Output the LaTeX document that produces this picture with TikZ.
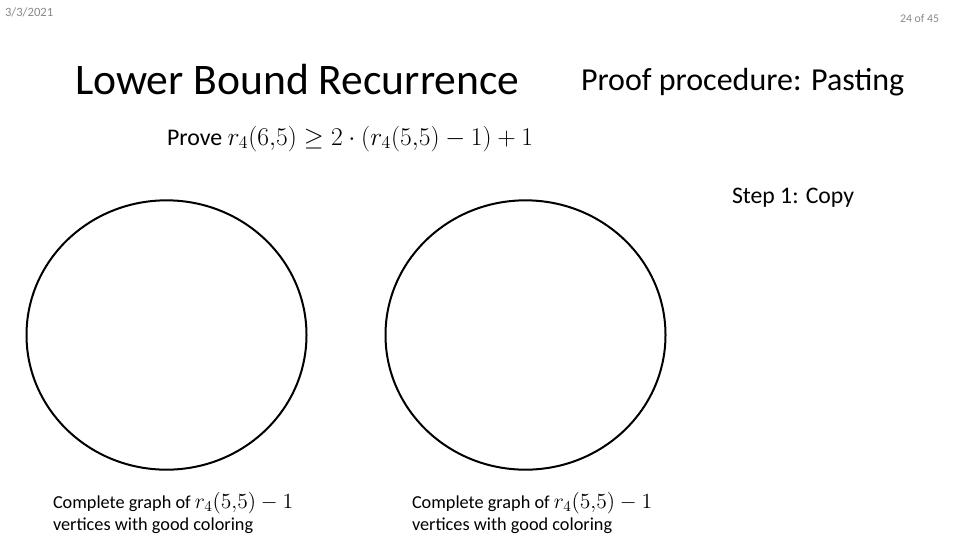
\RequirePackage{fix-cm}
\documentclass[tikz,border=0pt]{standalone}
\usepackage{fontspec}
\setmainfont{Carlito}
\usetikzlibrary{shapes.geometric}
\definecolor{slidegray}{RGB}{137,137,137}
\newcommand{\bigmath}[2]{{\fontsize{#1}{#1}\selectfont$#2$}}

\begin{document}
\begin{tikzpicture}[x=0.75pt, y=-0.75pt,
     every node/.style={inner sep=0pt, outer sep=0pt},
     graphcircle/.style={ellipse, draw, line width=1.5pt, minimum width=210pt, minimum height=202pt},
     caption/.style={anchor=north west, align=left, font=\fontsize{13.7pt}{16.5pt}\selectfont},
     corner/.style={text=slidegray, font=\fontsize{9.5pt}{11pt}\selectfont}]
   \useasboundingbox (0,0) rectangle (960,540);

   \node[corner, anchor=base west] (date) at (5,16) {3/3/2021};
   \node[corner, anchor=base east, font=\fontsize{8.8pt}{10pt}\selectfont] (page) at (939,22) {24 of 45};

   \node[anchor=base west, font=\fontsize{32.7pt}{36pt}\selectfont] (title) at (75,94) {Lower Bound Recurrence};
   \node[anchor=base west, font=\fontsize{24pt}{28pt}\selectfont] (proc) at (581,90) {Proof procedure: Pasting};
   \node[anchor=base west, font=\fontsize{17.9pt}{21pt}\selectfont] (prove) at (167,145) {Prove \bigmath{19.2pt}{r_4(6{,}5)\geq 2\cdot(r_4(5{,}5)-1)+1}};
   \node[anchor=base west, font=\fontsize{17.8pt}{21pt}\selectfont] (step) at (732,203) {Step 1: Copy};

   \node[graphcircle] (left) at (166.5,335) {};
   \node[graphcircle] (right) at (525.5,335) {};

   \node[caption] (capl) at (53,492) {Complete graph of \bigmath{16.2pt}{r_4(5{,}5)-1}\\vertices with good coloring};
   \node[caption] (capr) at (412,492) {Complete graph of \bigmath{16.2pt}{r_4(5{,}5)-1}\\vertices with good coloring};
\end{tikzpicture}
\end{document}
